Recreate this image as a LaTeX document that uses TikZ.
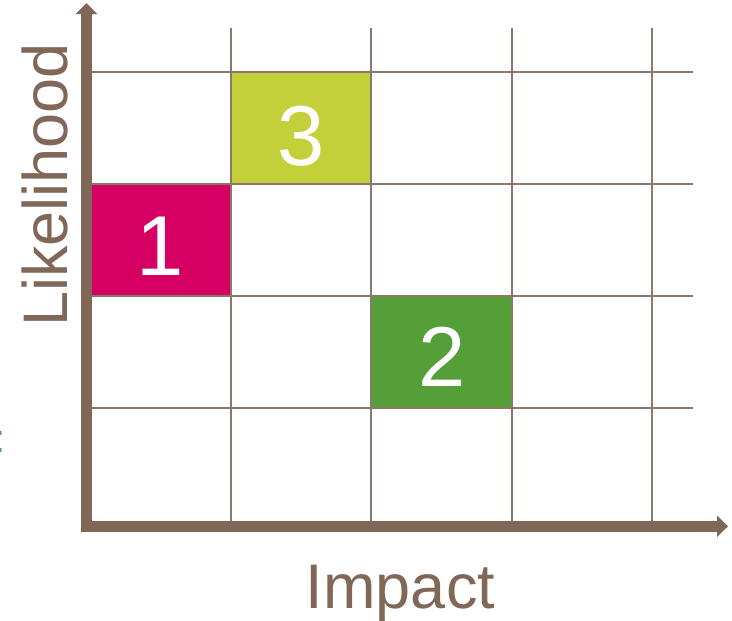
\documentclass[tikz,border=0pt]{standalone}
\usepackage{fontspec}
\setmainfont{Liberation Sans}
\usetikzlibrary{arrows.meta}
\definecolor{axisbrown}{HTML}{806758}
\definecolor{gridbrown}{HTML}{8C7868}
\definecolor{riskone}{HTML}{D60062}
\definecolor{risktwo}{HTML}{559F38}
\definecolor{riskthree}{HTML}{C3D03A}
\definecolor{notegreen}{HTML}{4FA23F}
\begin{document}
\begin{tikzpicture}[x=1pt,y=-1pt,
  gridline/.style={gridbrown, line width=2pt},
  axisline/.style={axisbrown, line width=11pt, line cap=butt,
    -{Triangle[width=21pt,length=11pt]}},
  digit/.style={text=white, font=\fontsize{85}{85}\selectfont, inner sep=0pt},
  axislabel/.style={text=axisbrown, font=\fontsize{63}{63}\selectfont, inner sep=0pt}]
\useasboundingbox (0,0) rectangle (732,621);

% highlighted risk cells
\fill[riskthree] (231,72) rectangle (371,184);
\fill[riskone] (88,184) rectangle (231,296);
\fill[risktwo] (371,296) rectangle (512,408);

% matrix grid
\foreach \x in {231,371,512,652}
  \draw[gridline] (\x,28) -- (\x,521);
\foreach \y in {72,184,296,408}
  \draw[gridline] (88,\y) -- (693,\y);

% axes
\coordinate (ybottom) at (86.5,532);
\coordinate (ytop) at (86.5,3);
\coordinate (xleft) at (81,526.3);
\coordinate (xright) at (728,526.3);
\draw[axisline] (ybottom) -- (ytop);
\draw[axisline] (xleft) -- (xright);

% risk numbers
\node[digit] (risk1) at (160,246) {1};
\node[digit] (risk3) at (301,136) {3};
\node[digit] (risk2) at (442,357) {2};

% axis labels
\node[axislabel, anchor=base] (impact) at (400.5,608) {Impact};
\node[axislabel, anchor=base, rotate=90] (likelihood) at (67,185) {Likelihood};

% trailing punctuation at the left edge
\node[text=notegreen, font=\fontsize{40}{40}\selectfont, anchor=base east, inner sep=0pt] (note) at (5.6,452) {:};
\end{tikzpicture}
\end{document}
